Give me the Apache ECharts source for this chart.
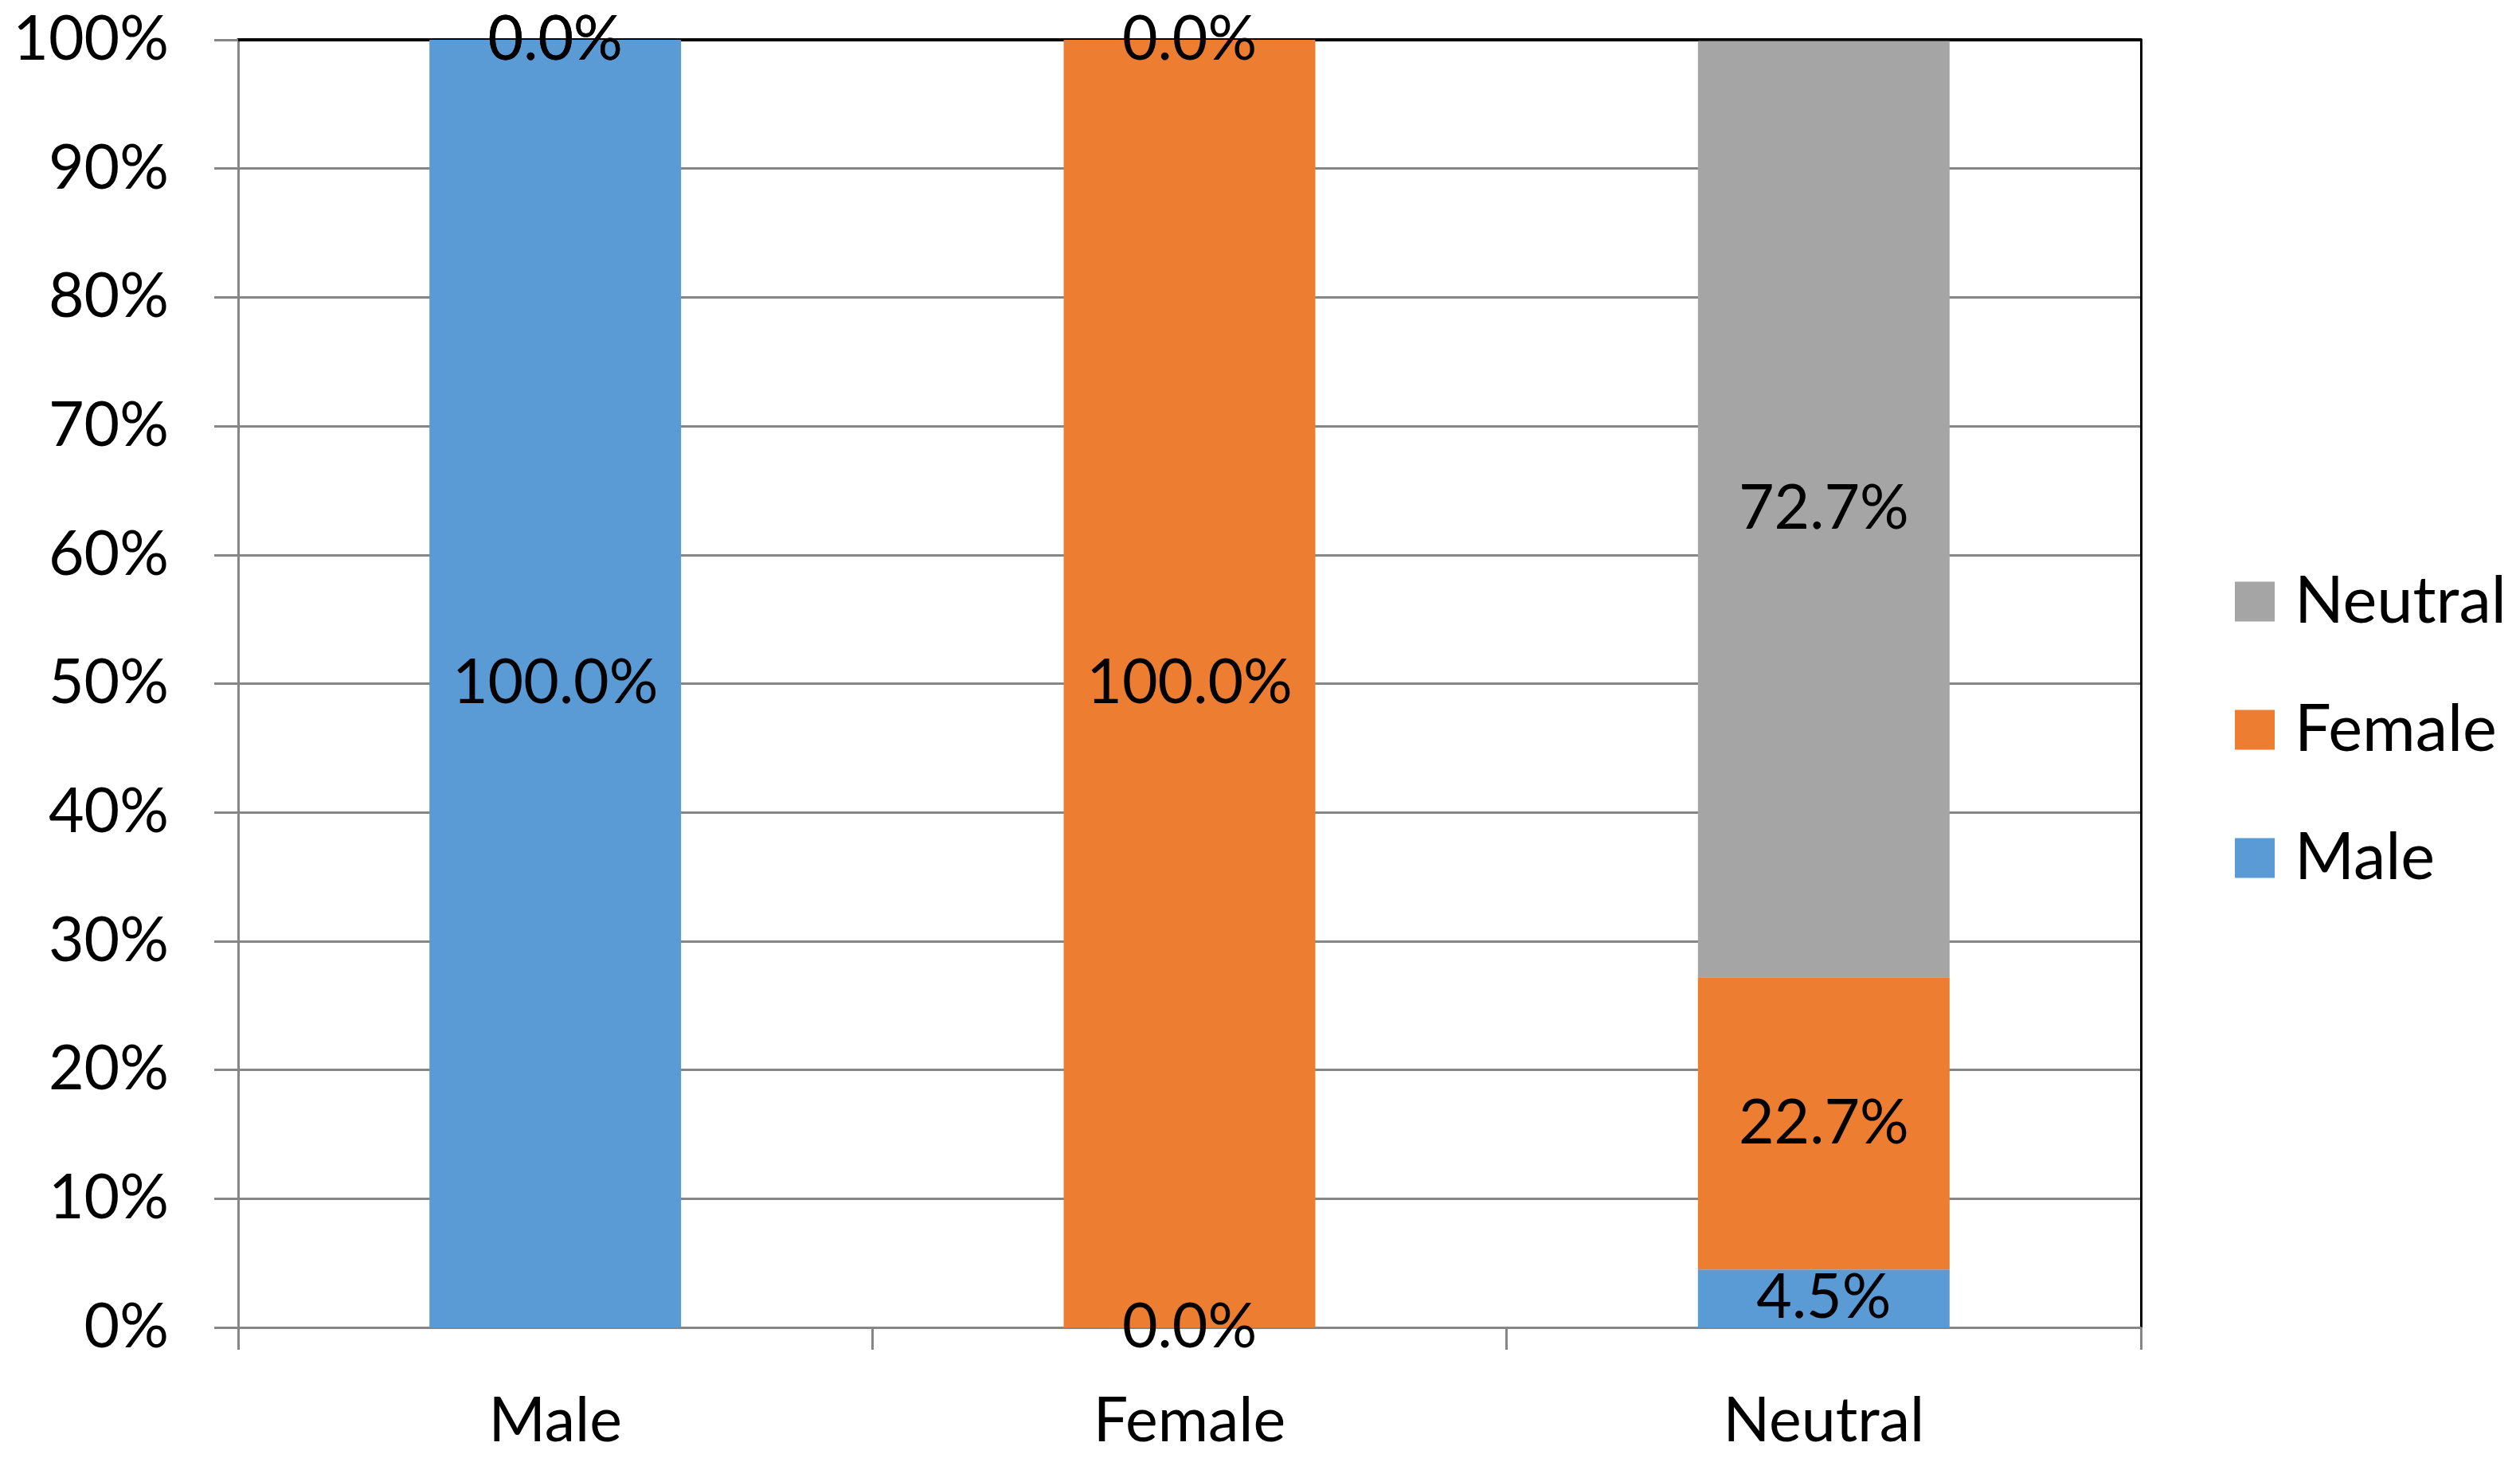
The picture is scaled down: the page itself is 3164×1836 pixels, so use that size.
<!DOCTYPE html>
<html>
<head>
<meta charset="utf-8">
<script src="https://cdn.jsdelivr.net/npm/echarts@6/dist/echarts.min.js"></script>
<style>
  html, body { margin: 0; padding: 0; background: #fff; }
  #chart { width: 3164px; height: 1836px; }
</style>
</head>
<body>
<div id="chart"></div>
<script>
// 数据
var categories = ['Male', 'Female', 'Neutral'];
var maleValues = [100.0, 0.0, 4.5];
var femaleValues = [0.0, 100.0, 22.7];
var neutralValues = [0.0, 0.0, 72.7];
var legendOrder = ['Neutral', 'Female', 'Male'];

var FONT = 'Lato';
var fontSize = 77;

var chart = echarts.init(document.getElementById('chart'));

function pct(p) {
    return p.value.toFixed(1) + '%';
}

function makeSeries(name, data, color) {
    return {
        name: name,
        type: 'bar',
        stack: 'total',
        barWidth: 316,
        data: data,
        itemStyle: { color: color },
        label: {
            show: true,
            position: 'inside',
            formatter: pct,
            color: '#000',
            fontFamily: FONT,
            fontSize: fontSize
        }
    };
}

var option = {
    animation: false,
    backgroundColor: '#fff',
    grid: {
        left: 299,
        right: 476,
        top: 50,
        bottom: 169
    },
    legend: {
        orient: 'vertical',
        left: 2801,
        top: 710,
        data: legendOrder,
        icon: 'rect',
        itemWidth: 50,
        itemHeight: 50,
        itemGap: 80,
        textStyle: {
            color: '#000',
            fontFamily: FONT,
            fontSize: 81,
            lineHeight: 50,
            padding: [0, 0, 0, 20]
        }
    },
    xAxis: [{
        type: 'category',
        data: categories,
        axisLine: { lineStyle: { color: '#868686', width: 3 } },
        axisTick: { show: true, length: 28, lineStyle: { color: '#868686', width: 3 } },
        axisLabel: {
            color: '#000',
            fontFamily: FONT,
            fontSize: fontSize,
            margin: 80
        }
    }, {
        // 上边框
        type: 'category',
        position: 'top',
        data: categories,
        axisLine: { onZero: false, lineStyle: { color: '#000', width: 4 } },
        axisTick: { show: false },
        axisLabel: { show: false }
    }],
    yAxis: [{
        type: 'value',
        min: 0,
        max: 100,
        interval: 10,
        axisLine: { show: true, lineStyle: { color: '#868686', width: 3 } },
        axisTick: { show: true, length: 30, lineStyle: { color: '#868686', width: 3 } },
        splitLine: { lineStyle: { color: '#868686', width: 3 } },
        axisLabel: {
            formatter: '{value}%',
            color: '#000',
            fontFamily: FONT,
            fontSize: fontSize,
            margin: 87
        }
    }, {
        // 右边框
        type: 'value',
        position: 'right',
        min: 0,
        max: 100,
        interval: 10,
        axisLine: { show: true, onZero: false, lineStyle: { color: '#000', width: 3 } },
        axisTick: { show: false },
        splitLine: { show: false },
        axisLabel: { show: false }
    }],
    series: [
        makeSeries('Male', maleValues, '#5B9BD5'),
        makeSeries('Female', femaleValues, '#ED7D31'),
        makeSeries('Neutral', neutralValues, '#A5A5A5')
    ]
};

chart.setOption(option);
</script>
</body>
</html>
